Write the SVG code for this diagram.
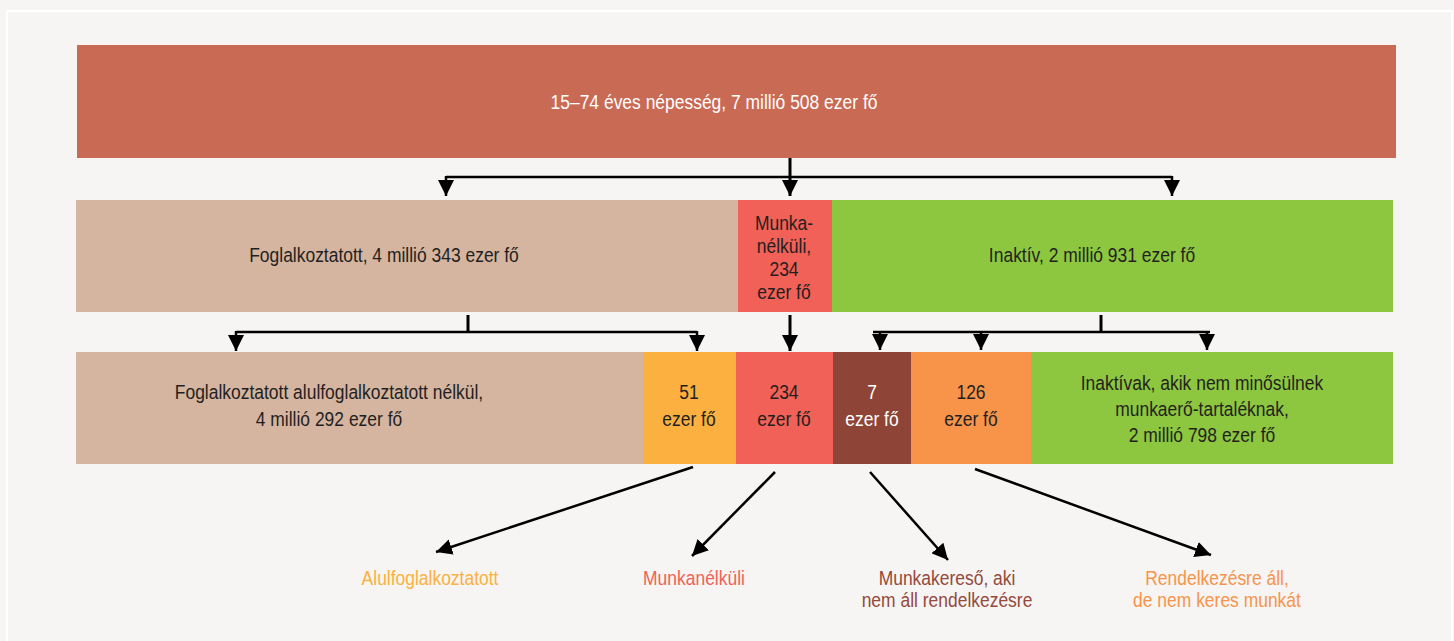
<svg xmlns="http://www.w3.org/2000/svg" width="1454" height="641" viewBox="0 0 1454 641">
<defs>
<style>
.t{font-family:"Liberation Sans",Arial,sans-serif;font-size:19.5px;fill:#231f20;text-anchor:middle}
.w{fill:#ffffff}
.c{stroke:#000;fill:none;stroke-width:2.5}
.v{stroke:#000;fill:none;stroke-width:3}
</style>
<marker id="ah" viewBox="0 0 16 16" refX="16" refY="8" markerWidth="16" markerHeight="16" markerUnits="userSpaceOnUse" orient="auto">
<path d="M0,0 L16,8 L0,16 z" fill="#000"/>
</marker>
</defs>
<rect x="0" y="0" width="1454" height="641" fill="#f6f5f3"/>
<rect x="7" y="11" width="1445" height="650" fill="none" stroke="#ffffff" stroke-width="2"/>

<g id="top">
<rect x="77" y="45" width="1319" height="113" fill="#c96a55"/>
<text class="t w" transform="translate(714 109) scale(0.895 1)">15–74 éves népesség, 7 millió 508 ezer fő</text>
</g>

<g id="foglalkoztatott">
<rect x="76" y="200" width="662" height="112" fill="#d5b5a0"/>
<text class="t" transform="translate(384 262) scale(0.895 1)">Foglalkoztatott, 4 millió 343 ezer fő</text>
</g>
<g id="munkanelkuli">
<rect x="738" y="200" width="94" height="112" fill="#f26157"/>
<text class="t" transform="translate(784 230) scale(0.895 1)"><tspan x="0" y="0">Munka-</tspan><tspan x="0" y="23">nélküli,</tspan><tspan x="0" y="46">234</tspan><tspan x="0" y="69">ezer fő</tspan></text>
</g>
<g id="inaktiv">
<rect x="832" y="200" width="561" height="112" fill="#8dc63f"/>
<text class="t" transform="translate(1092 262) scale(0.895 1)">Inaktív, 2 millió 931 ezer fő</text>
</g>

<g id="fogl-nelkul">
<rect x="76" y="352" width="567" height="112" fill="#d5b5a0"/>
<text class="t" transform="translate(329 399) scale(0.895 1)"><tspan x="0" y="0">Foglalkoztatott alulfoglalkoztatott nélkül,</tspan><tspan x="0" y="27">4 millió 292 ezer fő</tspan></text>
</g>
<g id="alul">
<rect x="643" y="352" width="93" height="112" fill="#fbb040"/>
<text class="t" transform="translate(689 399) scale(0.895 1)"><tspan x="0" y="0">51</tspan><tspan x="0" y="27">ezer fő</tspan></text>
</g>
<g id="munkanelkuli2">
<rect x="736" y="352" width="97" height="112" fill="#f26157"/>
<text class="t" transform="translate(784 399) scale(0.895 1)"><tspan x="0" y="0">234</tspan><tspan x="0" y="27">ezer fő</tspan></text>
</g>
<g id="kereso">
<rect x="833" y="352" width="78" height="112" fill="#8e4436"/>
<text class="t w" transform="translate(872 399) scale(0.895 1)"><tspan x="0" y="0">7</tspan><tspan x="0" y="27">ezer fő</tspan></text>
</g>
<g id="rendelkezesre">
<rect x="911" y="352" width="120" height="112" fill="#f7944a"/>
<text class="t" transform="translate(971 399) scale(0.895 1)"><tspan x="0" y="0">126</tspan><tspan x="0" y="27">ezer fő</tspan></text>
</g>
<g id="inaktivak">
<rect x="1031" y="352" width="362" height="112" fill="#8dc63f"/>
<text class="t" transform="translate(1202 390) scale(0.895 1)"><tspan x="0" y="0">Inaktívak, akik nem minősülnek</tspan><tspan x="0" y="26">munkaerő-tartaléknak,</tspan><tspan x="0" y="52">2 millió 798 ezer fő</tspan></text>
</g>

<g id="connectors">
<line class="v" x1="790" y1="158" x2="790" y2="196" marker-end="url(#ah)"/>
<line class="c" x1="446" y1="177" x2="1172" y2="177"/>
<line class="c" x1="446" y1="176" x2="446" y2="196" marker-end="url(#ah)"/>
<line class="c" x1="1172" y1="176" x2="1172" y2="196" marker-end="url(#ah)"/>

<line class="v" x1="468" y1="315" x2="468" y2="333"/>
<line class="c" x1="236" y1="332" x2="697" y2="332"/>
<line class="c" x1="236" y1="331" x2="236" y2="351" marker-end="url(#ah)"/>
<line class="c" x1="697" y1="331" x2="697" y2="351" marker-end="url(#ah)"/>

<line class="v" x1="790" y1="315" x2="790" y2="351" marker-end="url(#ah)"/>

<line class="v" x1="1101" y1="315" x2="1101" y2="333"/>
<line class="c" x1="873" y1="332" x2="1210" y2="332"/>
<line class="c" x1="880" y1="331" x2="880" y2="350" marker-end="url(#ah)"/>
<line class="c" x1="981" y1="331" x2="981" y2="350" marker-end="url(#ah)"/>
<line class="c" x1="1207" y1="331" x2="1207" y2="350" marker-end="url(#ah)"/>

<line class="c" x1="693" y1="467" x2="436" y2="552" marker-end="url(#ah)"/>
<line class="c" x1="775" y1="472" x2="692" y2="556" marker-end="url(#ah)"/>
<line class="c" x1="870" y1="472" x2="948" y2="560" marker-end="url(#ah)"/>
<line class="c" x1="975" y1="469" x2="1211" y2="555" marker-end="url(#ah)"/>
</g>

<g id="labels">
<text class="t" style="fill:#fbb040" transform="translate(430 585) scale(0.895 1)">Alulfoglalkoztatott</text>
<text class="t" style="fill:#f26157" transform="translate(694 585) scale(0.895 1)">Munkanélküli</text>
<text class="t" style="fill:#94493b" transform="translate(947 585) scale(0.895 1)"><tspan x="0" y="0">Munkakereső, aki</tspan><tspan x="0" y="22.5">nem áll rendelkezésre</tspan></text>
<text class="t" style="fill:#f7944a" transform="translate(1217 585) scale(0.895 1)"><tspan x="0" y="0">Rendelkezésre áll,</tspan><tspan x="0" y="22.5">de nem keres munkát</tspan></text>
</g>
</svg>
